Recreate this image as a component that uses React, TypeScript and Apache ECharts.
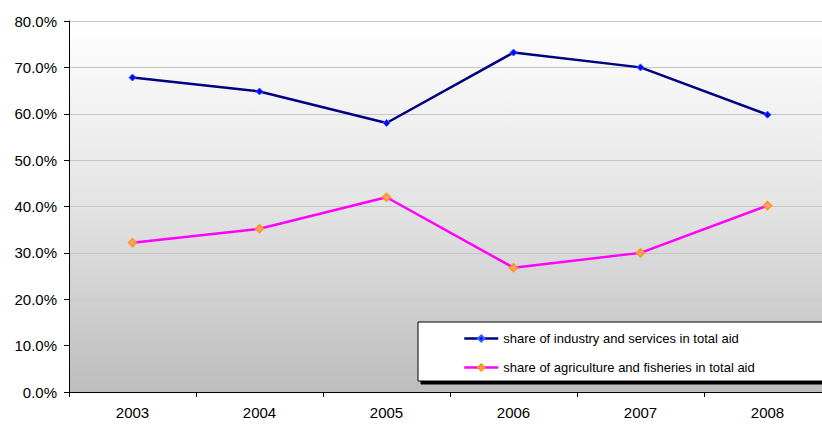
import React, { useEffect, useRef } from "react";
import * as echarts from "echarts";

const years = ["2003", "2004", "2005", "2006", "2007", "2008"];
const industryShare = [67.8, 64.8, 58.0, 73.2, 70.0, 59.8];
const agricultureShare = [32.2, 35.2, 42.0, 26.8, 30.0, 40.2];
const industryName = "share of industry and services in total aid";
const agricultureName = "share of agriculture and fisheries in total aid";

const FONT = "'Liberation Sans', Arial, sans-serif";

export default function App() {
  const ref = useRef<HTMLDivElement>(null);
  useEffect(() => {
    if (!ref.current) return;
    const chart = echarts.init(ref.current, undefined, { renderer: "svg" });
    chart.setOption({
      animation: false,
      backgroundColor: "#ffffff",
      grid: {
        show: true,
        left: 69,
        top: 21,
        right: 9,
        bottom: 33,
        borderWidth: 0,
        backgroundColor: new echarts.graphic.LinearGradient(0, 0, 0, 1, [
          { offset: 0, color: "#ffffff" },
          { offset: 0.5, color: "#e3e3e3" },
          { offset: 1, color: "#bdbdbd" },
        ]),
      },
      xAxis: {
        type: "category",
        data: years,
        boundaryGap: true,
        axisLine: { lineStyle: { color: "#000000", width: 1 } },
        axisTick: { show: true, interval: 0, length: 5, lineStyle: { color: "#000" } },
        axisLabel: { color: "#000", fontSize: 15, fontFamily: FONT, margin: 13 },
      },
      yAxis: {
        type: "value",
        min: 0,
        max: 80,
        interval: 10,
        axisLine: { show: true, lineStyle: { color: "#000000", width: 1 } },
        axisTick: { show: true, length: 5, lineStyle: { color: "#000" } },
        axisLabel: {
          color: "#000",
          fontSize: 15,
          fontFamily: FONT,
          margin: 12,
          formatter: (v: number) => v.toFixed(1) + "%",
        },
        splitLine: { show: true, lineStyle: { color: "#c6c6c6", width: 1 } },
      },
      legend: {
        orient: "vertical",
        left: 418,
        top: 322,
        padding: [10, 130, 7, 45],
        itemGap: 16,
        itemWidth: 34,
        itemHeight: 8,
        backgroundColor: "#ffffff",
        borderColor: "#000000",
        borderWidth: 1,
        borderRadius: 0,
        shadowColor: "#000000",
        shadowBlur: 0,
        shadowOffsetX: 3,
        shadowOffsetY: 3,
        lineStyle: { width: 2.5 },
        textStyle: { color: "#000", fontSize: 13, fontFamily: FONT },
        data: [industryName, agricultureName],
      },
      series: [
        {
          name: industryName,
          type: "line",
          data: industryShare,
          symbol: "diamond",
          symbolSize: 7,
          lineStyle: { color: "#000080", width: 2.5 },
          itemStyle: { color: "#0000ff", borderColor: "#3366ff", borderWidth: 1 },
        },
        {
          name: agricultureName,
          type: "line",
          data: agricultureShare,
          symbol: "diamond",
          symbolSize: 8,
          lineStyle: { color: "#ff00ff", width: 2.5 },
          itemStyle: { color: "#ff9999", borderColor: "#ff9900", borderWidth: 1.5 },
        },
      ],
    });
    return () => chart.dispose();
  }, []);
  return (
    <div
      style={{
        position: "fixed",
        left: 0,
        top: 0,
        width: 822,
        height: 425,
        overflow: "hidden",
      }}
    >
      <div ref={ref} style={{ width: 840, height: 425 }} />
    </div>
  );
}
